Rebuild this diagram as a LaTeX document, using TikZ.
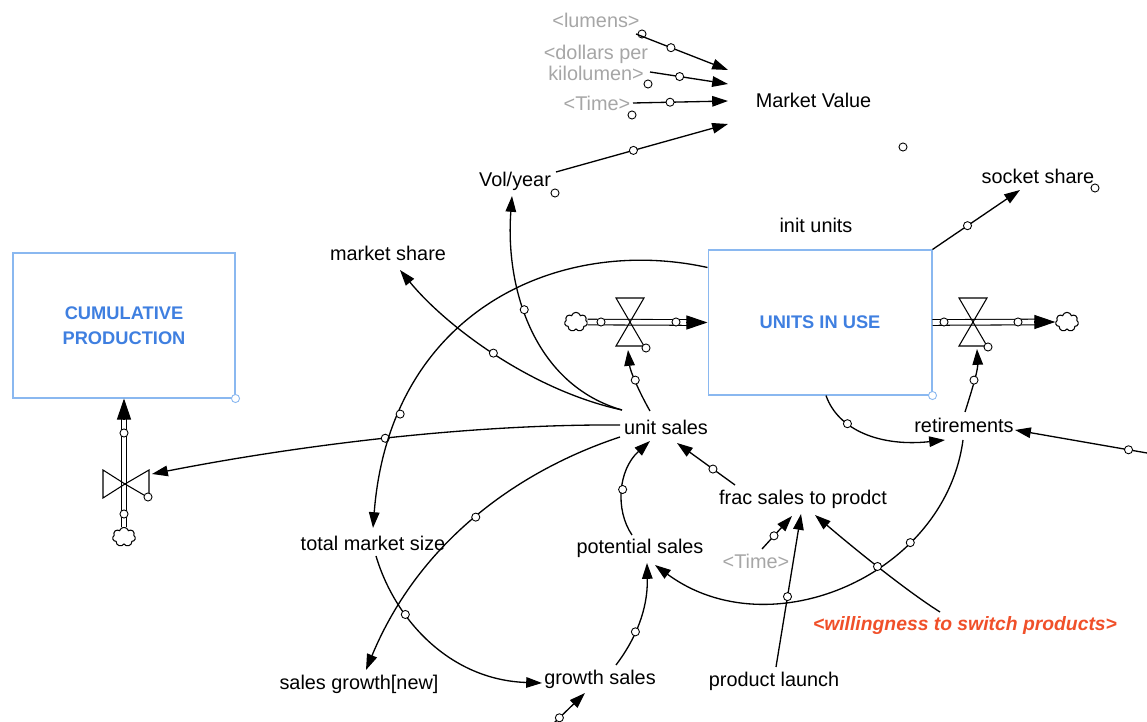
\documentclass[tikz,border=0pt]{standalone}
\usepackage{fontspec}
\setmainfont{Liberation Sans}
\usetikzlibrary{arrows.meta,shapes.symbols,calc}
\definecolor{stockblue}{HTML}{3F7FE0}
\definecolor{stockedge}{HTML}{8AB8F0}
\definecolor{shadowgray}{HTML}{A6A6A6}
\definecolor{willred}{HTML}{F0502A}
\begin{document}
\begin{tikzpicture}[x=0.02cm, y=-0.02cm,
  font=\fontsize{11.3}{13}\selectfont,
  var/.style={inner sep=1.5pt, text=black},
  shadowvar/.style={var, text=shadowgray},
  stockbox/.style={draw=stockedge, line width=0.6pt, minimum width=4.44cm, minimum height=2.9cm,
    inner sep=0pt, text=stockblue, align=center,
    font=\fontsize{10.4}{14}\selectfont\bfseries},
  conn/.style={line width=0.75pt, -{Triangle[length=9pt,width=6pt]}},
  hd/.style={circle, draw, fill=white, line width=0.5pt, inner sep=0pt, minimum size=4.6pt},
  stockhd/.style={hd, draw=stockedge},
  pipe/.style={double, double distance=2.6pt, line width=0.6pt},
  pipetip/.style={line width=0.6pt, -{Triangle[length=12pt,width=8pt]}},
  valveshape/.style={draw, line width=0.6pt},
  cloudshape/.style={cloud, cloud puffs=7, draw, line width=0.6pt, minimum width=13pt,
    minimum height=11pt, inner sep=0pt, fill=white}
]
\useasboundingbox (0,0) rectangle (1147,722);

% ---------- stocks ----------
\node[stockbox] (cp) at (124,325.5) {CUMULATIVE\\PRODUCTION};
\node[stockbox, minimum width=4.48cm] (uiu) at (820,322.5) {UNITS IN USE};
\node[stockhd] (cph) at (cp.south east) {};
\node[stockhd] (uiuh) at (uiu.south east) {};

% ---------- auxiliaries ----------
\node[var] (mv) at (813.5,100) {Market Value};
\node[shadowvar] (lum) at (596,20) {<lumens>};
\node[shadowvar, align=center, font=\fontsize{11.3}{11.5}\selectfont] (dpk) at (596,63) {<dollars per\\kilolumen>};
\node[shadowvar] (time1) at (597,103) {<Time>};
\node[var] (vol) at (515,181) {Vol/year};
\node[var] (sock) at (1038,176) {socket share};
\node[var] (init) at (816,225) {init units};
\node[var] (ms) at (388,253) {market share};
\node[var] (us) at (666,427) {unit sales};
\node[var] (ret) at (964,425) {retirements};
\node[var] (frac) at (803,499) {frac sales to prodct};
\node[var] (tms) at (373,543) {total market size};
\node[var] (ps) at (640,548) {potential sales};
\node[shadowvar] (time2) at (756,561) {<Time>};
\node[var, text=willred, font=\fontsize{11}{13}\selectfont\bfseries\itshape] (will) at (965,626) {<willingness to switch products>};
\node[var] (sg) at (359,684) {sales growth[new]};
\node[var] (gs) at (600,679) {growth sales};
\node[var] (pl) at (774,681) {product launch};

% loose handles of shadow variables and outputs
\node[hd] (lumh) at (642,34) {};
\node[hd] (dpkh) at (648,84) {};
\node[hd] (time1h) at (632,115) {};
\node[hd] (volh) at (555,193) {};
\node[hd] (mvh) at (903,147) {};
\node[hd] (sockh) at (1095,188) {};

% ---------- flows ----------
\coordinate (vin) at (630,322);
\coordinate (vout) at (973,322);
\coordinate (vcp) at (125,484);
\node[cloudshape] (cin) at (576,322) {};
\node[cloudshape] (cout) at (1067,322) {};
\node[cloudshape] (ccp) at (124,537) {};

\draw[pipe] (cin) -- ([xshift=-11pt]uiu.west);
\draw[pipetip] ([xshift=-12pt]uiu.west) -- (uiu.west);
\draw[pipe] (uiu.east) -- ([xshift=-11pt]cout.west);
\draw[pipetip] ([xshift=-12pt]cout.west) -- (cout.west);
\draw[pipe] (ccp) -- ([yshift=-11pt]cp.south);
\draw[pipetip] ([yshift=-12pt]cp.south) -- (cp.south);

\foreach \v in {vin,vout} {
  \draw[valveshape, shift={(\v)}] (-14,-24) -- (14,-24) -- (0,0) -- cycle;
  \draw[valveshape, shift={(\v)}] (-14,24) -- (14,24) -- (0,0) -- cycle;
}
\draw[valveshape, shift={(vcp)}] (-22,-14) -- (-22,14) -- (0,0) -- cycle;
\draw[valveshape, shift={(vcp)}] (24,-14) -- (24,14) -- (0,0) -- cycle;

\node[hd] (pin1) at (601,322) {};
\node[hd] (pin2) at (676,322) {};
\node[hd] (vinh) at (646,348) {};
\node[hd] (pout1) at (944,322) {};
\node[hd] (pout2) at (1018,322) {};
\node[hd] (vouth) at (988,347) {};
\node[hd] (pcp1) at (124,433) {};
\node[hd] (pcp2) at (124,514) {};
\node[hd] (vcph) at (148,497) {};

% ---------- connectors ----------
\draw[conn] ([shift={(40,14)}]lum.center) -- node[hd, pos=0.38]{} ([shift={(-85.5,-30)}]mv.center);
\draw[conn] ([shift={(54,9)}]dpk.center) -- node[hd, pos=0.38]{} ([shift={(-85.5,-16)}]mv.center);
\draw[conn] ([shift={(36,0)}]time1.center) -- node[hd, pos=0.39]{} ([shift={(-85.5,1)}]mv.center);
\draw[conn] ([shift={(41,-9)}]vol.center) -- node[hd, pos=0.45]{} ([shift={(-85.5,24)}]mv.center);
\draw[conn] (uiu.north east) -- node[hd, pos=0.4]{} ([shift={(-18,14)}]sock.center);

% from unit sales
\draw[conn] ([shift={(-44,-17)}]us.center) .. controls (530,390) and (445,325) .. node[hd, pos=0.5]{} ([shift={(12,17)}]ms.center);
\draw[conn] ([shift={(-44,-17)}]us.center) .. controls (535,385) and (505,290) .. node[hd, pos=0.58]{} ([shift={(-3,15)}]vol.center);
\draw[conn] ([shift={(-46,-2)}]us.center) .. controls (470,424) and (300,445) .. node[hd, pos=0.5]{} ([shift={(27,-10)}]vcp);
\draw[conn] ([shift={(-16,-16)}]us.center) .. controls (638,390) and (630,370) .. node[hd, pos=0.5]{} ([shift={(-2,28)}]vin);
\draw[conn] ([shift={(-46,10)}]us.center) .. controls (520,470) and (420,540) .. node[hd, pos=0.5]{} ([shift={(7,-14)}]sg.center);

% stock to auxiliaries
\draw[conn] ([shift={(0,-55)}]uiu.west) .. controls (560,235) and (390,310) .. node[hd, pos=0.8]{} ([shift={(0,-15)}]tms.center);
\draw[conn] ([xshift=6*0.02cm]uiu.south) .. controls (838,430) and (880,447) .. node[hd, pos=0.33]{} ([shift={(-19,15)}]ret.center);

% retirements
\draw[conn] ([shift={(1,-13)}]ret.center) .. controls (972,390) and (978,370) .. node[hd, pos=0.5]{} ([shift={(4,27)}]vout);
\coordinate (retin) at (1147,453);
\draw[conn] (retin) -- node[hd, pos=0.14]{} ([shift={(51,5)}]ret.center);
\draw[conn] ([shift={(-1,15)}]ret.center) .. controls (945,575) and (770,650) .. node[hd, pos=0.3]{} ([shift={(15,17)}]ps.center);

% lower loop
\draw[conn] ([shift={(3,13)}]tms.center) .. controls (395,620) and (450,680) .. node[hd, pos=0.32]{} ([shift={(-58,4)}]gs.center);
\draw[conn] ([shift={(-8,-13)}]ps.center) .. controls (615,510) and (618,470) .. node[hd, pos=0.5]{} ([shift={(-16,14)}]us.center);
\draw[conn] ([shift={(-68,-14)}]frac.center) -- node[hd, pos=0.38]{} ([shift={(11,16)}]us.center);
\draw[conn] ([shift={(16,-14)}]gs.center) .. controls (635,640) and (648,610) .. node[hd, pos=0.4]{} ([shift={(7,15)}]ps.center);
\coordinate (gsin) at (553,724);
\draw[conn] (gsin) -- node[hd, pos=0.2]{} ([shift={(-15,14)}]gs.center);

% into frac sales to prodct
\draw[conn] ([shift={(-25,-14)}]will.center) .. controls (905,590) and (850,545) .. node[hd, pos=0.5]{} ([shift={(12,16)}]frac.center);
\draw[conn] ([shift={(2,-14)}]pl.center) -- node[hd, pos=0.46]{} ([shift={(-2,15)}]frac.center);
\draw[conn] ([shift={(6,-12)}]time2.center) -- node[hd, pos=0.4]{} ([shift={(-11,17)}]frac.center);
\end{tikzpicture}
\end{document}
